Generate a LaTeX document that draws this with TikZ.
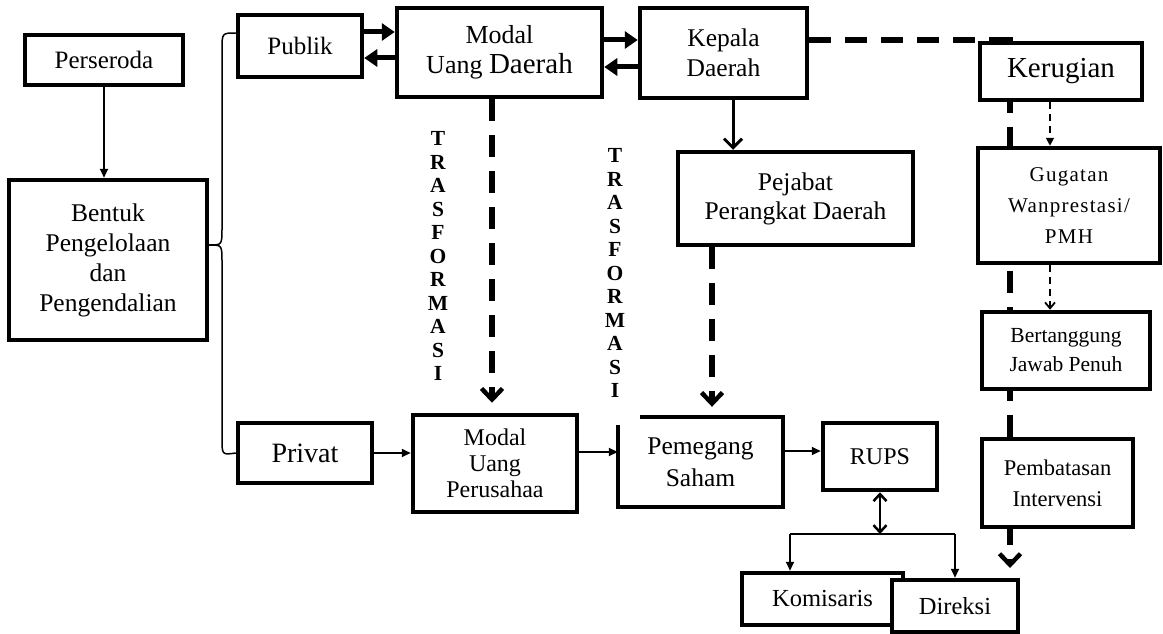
\documentclass[tikz,border=0pt]{standalone}
\usepackage{fontspec}
\setmainfont{Liberation Serif}
\newfontfamily\trackedserif[LetterSpace=6]{Liberation Serif}
\usetikzlibrary{arrows.meta,calc,backgrounds}
\newcommand{\fsz}[2]{\fontsize{#1}{#2}\selectfont}
\begin{document}
\begin{tikzpicture}[x=1pt,y=-1pt,
  box/.style={draw, line width=4.5pt, fill=white, align=center, inner sep=0pt},
  thinarr/.style={line width=1.8pt, -{Triangle[length=9pt,width=8pt]}},
  thickarr/.style={line width=5pt, -{Triangle[length=13pt,width=17pt]}},
  bigdash/.style={line width=6pt, dash pattern=on 22pt off 14pt,
    -{Straight Barb[length=11pt,width=21pt,line width=4.5pt]}},
  smalldash/.style={line width=1.8pt, dash pattern=on 7pt off 5pt},
  vert/.style={align=center, inner sep=0pt, font=\bfseries\fsz{21.5}{23.5}}
]
\useasboundingbox (0,0) rectangle (1163,634);

% horizontal levels used by the connectors
\coordinate (L32) at (0,32);
\coordinate (L58) at (0,58);
\coordinate (L40) at (0,40);
\coordinate (L67) at (0,67);
\coordinate (L452) at (0,452);
\coordinate (L451) at (0,451);
\coordinate (L33) at (0,33);
\coordinate (L245) at (0,245);

% boxes
\node[box, minimum width=158pt, minimum height=50pt, font=\fsz{25}{30}] (pers) at (104,60) {Perseroda};
\node[box, minimum width=198pt, minimum height=160pt, font=\fsz{25.5}{30}] (bent) at (108,260) {Bentuk\\Pengelolaan\\dan\\Pengendalian};
\node[box, minimum width=124pt, minimum height=62pt, font=\fsz{25}{30}] (pub) at (300,46) {Publik};
\node[box, minimum width=205pt, minimum height=89pt, font=\fsz{26}{30}] (mud) at (499.5,52.5) {Modal\\Uang {\fsz{29}{30}Daerah}};
\node[box, minimum width=167pt, minimum height=90pt, font=\fsz{25.5}{30}] (kep) at (723.5,53) {Kepala\\Daerah};
\node[box, minimum width=162pt, minimum height=57pt, font=\fsz{29}{32}] (ker) at (1061,71.5) {Kerugian};
\node[box, minimum width=235pt, minimum height=93pt, font=\fsz{25.5}{29}] (pej) at (795.5,198.5) {Pejabat\\Perangkat Daerah};
\node[box, minimum width=182pt, minimum height=115pt, font=\trackedserif\fsz{21}{31}] (gug) at (1069,205.5) {Gugatan\\Wanprestasi/\\PMH};
\node[box, minimum width=168pt, minimum height=77pt, font=\fsz{21.5}{29}] (ber) at (1066,350.5) {Bertanggung\\Jawab Penuh};
\node[box, minimum width=151pt, minimum height=88pt, font=\fsz{22.5}{31}] (pem) at (1057.5,483) {Pembatasan\\Intervensi};
\node[box, minimum width=134pt, minimum height=60pt, font=\fsz{28}{30}] (priv) at (305,453) {Privat};
\node[box, minimum width=164pt, minimum height=97pt, font=\fsz{24}{26}] (mup) at (495,463.5) {Modal\\Uang\\Perusahaa};
\node[align=center, inner sep=0pt, minimum width=165pt, minimum height=90pt, font=\fsz{25.5}{32}] (peg) at (700.5,462) {Pemegang\\Saham};
\draw[line width=4.5pt] ($(peg.north west)+(22,0)$) -- (peg.north east) -- (peg.south east) -- (peg.south west) -- ($(peg.north west)+(0,8)$);
\node[box, minimum width=114pt, minimum height=67pt, font=\fsz{24}{28}] (rups) at (880,456.5) {RUPS};
\node[box, minimum width=161pt, minimum height=52pt, font=\fsz{24.5}{28}] (kom) at (822.5,599) {Komisaris};
\node[box, minimum width=126pt, minimum height=52pt, font=\fsz{24.5}{28}] (dir) at (955,606) {Direksi};

% vertical labels
\node[vert] (t1) at (438,256) {T\\R\\A\\S\\F\\O\\R\\M\\A\\S\\I};
\node[vert] (t2) at (615,273) {T\\R\\A\\S\\F\\O\\R\\M\\A\\S\\I};

% long dashed path behind the right column
\coordinate (kend) at (1010,568);
\begin{scope}[on background layer]
  \fill[white] (0,0) rectangle (1163,634);
  \draw[bigdash] (kep.east |- L40) -| (kend);
\end{scope}

% connectors
\draw[thinarr] (pers.south) -- (pers.south |- bent.north);
\draw[line width=1.5pt]
  (pub.west |- L33) .. controls (222,33) .. (222,50) -- (222,228)
  .. controls (222,245) .. (bent.east |- L245)
  .. controls (222,245) .. (222,262) -- (222,438)
  .. controls (222,455) .. (priv.west);
\draw[thickarr] (pub.east |- L32) -- (mud.west |- L32);
\draw[thickarr] (mud.west |- L58) -- (pub.east |- L58);
\draw[thickarr] (mud.east |- L40) -- (kep.west |- L40);
\draw[thickarr] (kep.west |- L67) -- (mud.east |- L67);

\coordinate (ka) at ($(kep.south)+(9.5,0)$);
\draw[line width=3pt, -{Straight Barb[length=9pt,width=18pt,line width=3pt]}] (ka) -- (ka |- pej.north);

\coordinate (ma) at ($(mup.north)+(-3,-10)$);
\draw[bigdash] (ma |- mud.south) -- (ma);
\coordinate (pg) at ($(peg.north)+(11.5,-10)$);
\draw[bigdash] (pg |- pej.south) -- (pg);

\draw[thinarr] (priv.east) -- (priv.east -| mup.west);
\draw[thinarr] (mup.east |- L452) -- (peg.west |- L452);
\draw[thinarr] (peg.east |- L451) -- (rups.west |- L451);

\coordinate (jl) at (790,534);
\coordinate (jr) at (955,534);
\draw[line width=2.5pt, {Straight Barb[length=7pt,width=13pt,line width=2.5pt]}-{Straight Barb[length=7pt,width=13pt,line width=2.5pt]}] (rups.south) -- (rups.south |- jl);
\draw[line width=1.8pt] (jl) -- (jr);
\draw[thinarr] (jl) -- (jl |- kom.north);
\draw[thinarr] (jr) -- (dir.north);

\coordinate (dx) at (1050,0);
\draw[smalldash, -{Triangle[length=8pt,width=8pt]}] (dx |- ker.south) -- (dx |- gug.north);
\draw[smalldash, -{Straight Barb[length=6pt,width=10pt,line width=1.8pt]}] (dx |- gug.south) -- (dx |- ber.north);
\end{tikzpicture}
\end{document}
